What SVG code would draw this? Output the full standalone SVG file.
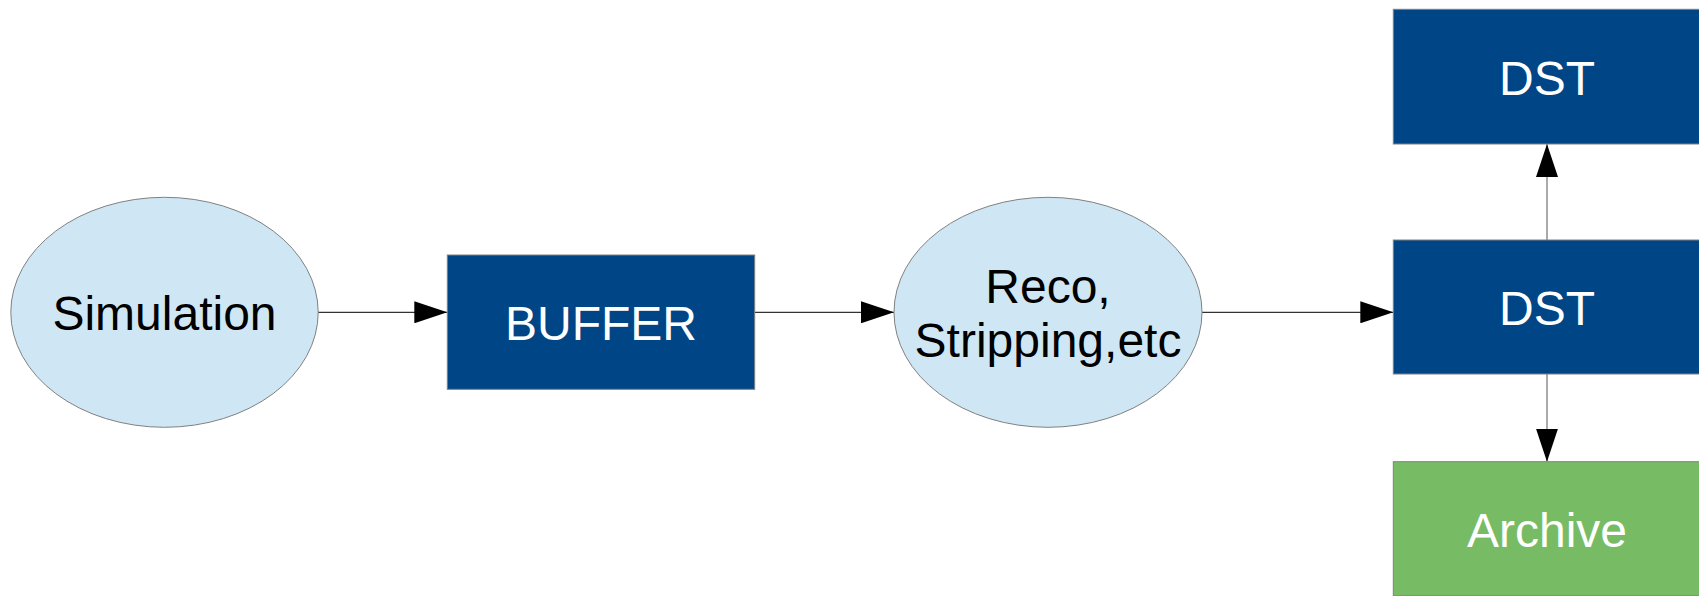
<svg xmlns="http://www.w3.org/2000/svg" width="1699" height="596" viewBox="0 0 1699 596">
<style>
.ell{fill:#cfe7f5;stroke:#808080;stroke-width:1}
.box{fill:#004586;stroke:#808080;stroke-width:1}
.arc{fill:#77bc65;stroke:#808080;stroke-width:1}
.t{font-family:"Liberation Sans",Arial,sans-serif;font-size:48px;text-anchor:middle}
.dk{fill:#000000}
.wt{fill:#ffffff}
.con{stroke:#000000;stroke-width:1;fill:none;marker-end:url(#ah)}
</style>
<defs>
<marker id="ah" markerUnits="userSpaceOnUse" markerWidth="34" markerHeight="22" refX="33" refY="11" orient="auto" viewBox="0 0 34 22">
<path d="M0,0 L33,11 L0,22 z" fill="#000000"/>
</marker>
</defs>
<rect width="1699" height="596" fill="#ffffff"/>
<g id="connectors">
<line class="con" x1="318" y1="312.3" x2="447.3" y2="312.3"/>
<line class="con" x1="754.7" y1="312.3" x2="894" y2="312.3"/>
<line class="con" x1="1202" y1="312.3" x2="1393.3" y2="312.3"/>
<line class="con" style="stroke:#555" x1="1547" y1="240" x2="1547" y2="144"/>
<line class="con" style="stroke:#555" x1="1547" y1="374" x2="1547" y2="461.7"/>
</g>
<g id="simulation">
<ellipse class="ell" cx="164.5" cy="312.3" rx="153.7" ry="115"/>
<text class="t dk" x="164.5" y="330.3">Simulation</text>
</g>
<g id="buffer">
<rect class="box" x="447.3" y="255" width="307.4" height="134.3"/>
<text class="t wt" x="601" y="340">BUFFER</text>
</g>
<g id="reco">
<ellipse class="ell" cx="1048" cy="312.3" rx="154" ry="115"/>
<text class="t dk" x="1048" y="302.7">Reco,</text>
<text class="t dk" x="1048" y="356.7">Stripping,etc</text>
</g>
<g id="dst-top">
<rect class="box" x="1393.3" y="9.3" width="307.4" height="134.7"/>
<text class="t wt" x="1547" y="95">DST</text>
</g>
<g id="dst-mid">
<rect class="box" x="1393.3" y="240" width="307.4" height="134"/>
<text class="t wt" x="1547" y="325">DST</text>
</g>
<g id="archive">
<rect class="arc" x="1393.3" y="461.7" width="307.4" height="134"/>
<text class="t wt" x="1547" y="547">Archive</text>
</g>
</svg>
